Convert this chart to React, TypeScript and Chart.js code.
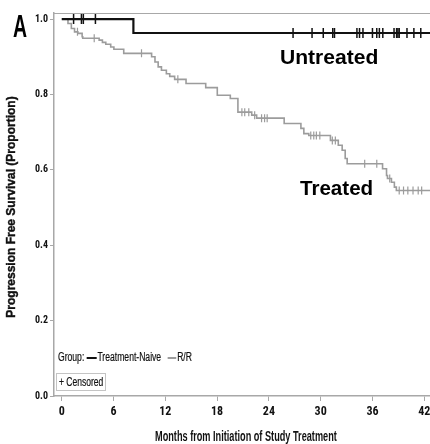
import React, { useEffect, useLayoutEffect, useRef, useState } from "react";
import { Chart, registerables } from "chart.js";
Chart.register(...registerables);

const xTicks = [0, 6, 12, 18, 24, 30, 36, 42];
const yTicks = [0, 0.2, 0.4, 0.6, 0.8, 1.0];

const untreatedTimes = [0, 8.3, 44];
const untreatedSurv = [1.0, 0.963, 0.963];
const untreatedCensored = [1.37, 2.28, 2.5, 3.9, 26.8, 29.0, 30.3, 31.4, 31.6, 34.2, 34.5, 34.9, 36.0, 36.5, 36.8, 37.2, 38.5, 38.8, 38.95, 39.1, 40.0, 40.8, 41.6];

const treatedTimes = [0, 0.72, 1.11, 1.48, 1.86, 2.36, 2.43, 4.33, 4.71, 5.1, 5.67, 6.04, 7.18, 10.41, 10.8, 11.17, 11.55, 12.12, 12.51, 13.08, 14.4, 16.68, 18.02, 19.53, 20.41, 22.01, 22.58, 25.77, 27.71, 28.05, 28.62, 31.13, 32.04, 32.49, 32.84, 33.07, 37.17, 37.63, 37.74, 38.2, 38.54, 38.77, 44];
const treatedSurv = [1.0, 0.988, 0.975, 0.966, 0.962, 0.953, 0.949, 0.944, 0.938, 0.933, 0.926, 0.92, 0.909, 0.9, 0.886, 0.873, 0.864, 0.855, 0.848, 0.84, 0.829, 0.818, 0.798, 0.789, 0.753, 0.745, 0.737, 0.723, 0.71, 0.696, 0.691, 0.678, 0.665, 0.652, 0.63, 0.616, 0.603, 0.585, 0.577, 0.567, 0.554, 0.545, 0.545];
const treatedCensored = [1.82, 3.76, 9.24, 13.45, 20.87, 21.2, 21.67, 22.35, 23.15, 23.5, 23.8, 28.85, 29.2, 29.5, 29.9, 31.35, 31.7, 35.1, 36.5, 38.0, 39.1, 39.6, 40.1, 40.7, 41.3, 41.7];

const survAt = (times: number[], surv: number[], t: number) => {
  let v = surv[0];
  for (let i = 0; i < times.length; i++) if (times[i] <= t) v = surv[i];
  return v;
};

const BLACK = "#111111";
const GRAY = "#9c9c9c";
const AXIS = "#a8a8a8";
const NARROW = "'Roboto Condensed', 'DejaVu Sans Condensed', 'Liberation Sans', sans-serif";
const SANS = "'Liberation Sans', Arial, sans-serif";

function FitText({ width, style, children }: { width: number; style?: React.CSSProperties; children: React.ReactNode }) {
  const ref = useRef<HTMLSpanElement>(null);
  const [s, setS] = useState(1);
  useLayoutEffect(() => {
    if (ref.current) setS(width / ref.current.offsetWidth);
  }, [width]);
  return (
    <span
      ref={ref}
      style={{ display: "inline-block", whiteSpace: "nowrap", transform: `scaleX(${s})`, transformOrigin: "left top", ...style }}
    >
      {children}
    </span>
  );
}

const topBorder = {
  id: "topBorder",
  afterDraw(chart: any) {
    const { ctx, chartArea } = chart;
    ctx.save();
    ctx.strokeStyle = AXIS;
    ctx.lineWidth = 1;
    ctx.beginPath();
    ctx.moveTo(chartArea.left, chartArea.top + 0.5);
    ctx.lineTo(chartArea.right, chartArea.top + 0.5);
    ctx.stroke();
    ctx.restore();
  },
};

export default function App() {
  const canvasRef = useRef<HTMLCanvasElement>(null);
  useEffect(() => {
    const ctx = canvasRef.current!;
    const chart = new Chart(ctx, {
      type: "line",
      data: {
        datasets: [
          {
            label: "Untreated censored",
            data: untreatedCensored.map((t) => ({ x: t, y: survAt(untreatedTimes, untreatedSurv, t) })),
            showLine: false,
            pointStyle: "line",
            rotation: 90,
            pointRadius: 5,
            pointBorderWidth: 1.5,
            borderColor: BLACK,
            backgroundColor: BLACK,
          },
          {
            label: "Treatment-Naive",
            data: untreatedTimes.map((t, i) => ({ x: t, y: untreatedSurv[i] })),
            stepped: "before",
            borderColor: BLACK,
            borderWidth: 2.2,
            pointRadius: 0,
          },
          {
            label: "R/R censored",
            data: treatedCensored.map((t) => ({ x: t, y: survAt(treatedTimes, treatedSurv, t) })),
            showLine: false,
            pointStyle: "line",
            rotation: 90,
            pointRadius: 4,
            pointBorderWidth: 1.2,
            borderColor: GRAY,
            backgroundColor: GRAY,
          },
          {
            label: "R/R",
            data: treatedTimes.map((t, i) => ({ x: t, y: treatedSurv[i] })),
            stepped: "before",
            borderColor: GRAY,
            borderWidth: 1.6,
            pointRadius: 0,
          },
        ],
      },
      options: {
        animation: false,
        responsive: false,
        devicePixelRatio: 1,
        layout: { padding: { top: 13, left: 0, right: 0, bottom: 0 } },
        plugins: { legend: { display: false }, tooltip: { enabled: false } },
        scales: {
          x: {
            type: "linear",
            min: -0.9,
            max: 44,
            afterBuildTicks: (s: any) => {
              s.ticks = xTicks.map((v) => ({ value: v }));
            },
            afterFit: (s: any) => {
              s.height = 48;
            },
            grid: { drawOnChartArea: false, drawTicks: true, tickLength: 5, color: AXIS },
            border: { display: true, color: AXIS, width: 1.5 },
            ticks: {
              color: "#111",
              padding: 4,
              font: { family: NARROW, size: 12, weight: "bold" },
              callback: (v: any) => String(v),
            },
          },
          y: {
            type: "linear",
            min: 0,
            max: 1.016,
            afterBuildTicks: (s: any) => {
              s.ticks = yTicks.map((v) => ({ value: v }));
            },
            afterFit: (s: any) => {
              s.width = 54;
            },
            grid: { drawOnChartArea: false, drawTicks: true, tickLength: 4, color: AXIS },
            border: { display: true, color: AXIS, width: 1.5 },
            ticks: {
              color: "#111",
              padding: 2,
              font: { family: NARROW, size: 10, weight: "bold" },
              callback: (v: any) => Number(v).toFixed(1),
            },
          },
        },
      },
      plugins: [topBorder],
    });
    return () => chart.destroy();
  }, []);

  const abs = (l: number, t: number): React.CSSProperties => ({ position: "absolute", left: l, top: t });

  return (
    <div style={{ position: "absolute", left: 0, top: 0, width: 430, height: 444, overflow: "hidden", background: "#fff" }}>
      <canvas ref={canvasRef} width={448} height={444} style={{ position: "absolute", left: 0, top: 0, width: 448, height: 444 }} />
      <div style={{ ...abs(13, 10), fontFamily: SANS, fontWeight: "bold", fontSize: 32, lineHeight: "32px", color: "#000" }}>
        <FitText width={14}>A</FitText>
      </div>
      <div
        style={{
          position: "absolute",
          left: 11,
          top: 207,
          transform: "translate(-50%, -50%) rotate(-90deg)",
          fontFamily: SANS,
          fontWeight: "bold",
          fontSize: 12,
          lineHeight: "12px",
          whiteSpace: "nowrap",
          color: "#111",
          WebkitTextStroke: "0.4px #111",
        }}
      >
        Progression Free Survival (Proportion)
      </div>
      <div style={{ ...abs(155, 429), fontFamily: SANS, fontWeight: "bold", fontSize: 14, lineHeight: "14px", color: "#111" }}>
        <FitText width={182}>Months from Initiation of Study Treatment</FitText>
      </div>
      <div style={{ ...abs(280, 47), fontFamily: SANS, fontWeight: "bold", fontSize: 20, lineHeight: "20px", color: "#000" }}>
        <FitText width={98}>Untreated</FitText>
      </div>
      <div style={{ ...abs(300, 178), fontFamily: SANS, fontWeight: "bold", fontSize: 20, lineHeight: "20px", color: "#000" }}>
        <FitText width={73}>Treated</FitText>
      </div>
      <div style={{ ...abs(58, 351), fontFamily: SANS, fontSize: 12, lineHeight: "12px", color: "#111", WebkitTextStroke: "0.2px #111" }}>
        <FitText width={134}>
          <span>Group: </span>
          <span style={{ display: "inline-block", width: 14, height: 2, background: BLACK, verticalAlign: "middle", marginRight: 1 }} />
          <span>Treatment-Naive </span>
          <span style={{ display: "inline-block", width: 12, height: 2, background: GRAY, verticalAlign: "middle", marginLeft: 6, marginRight: 1 }} />
          <span>R/R</span>
        </FitText>
      </div>
      <div
        style={{
          ...abs(56, 373),
          width: 50,
          height: 18,
          boxSizing: "border-box",
          border: "1px solid #c4c4c4",
        }}
      />
      <div style={{ ...abs(59, 376), fontFamily: SANS, fontSize: 12, lineHeight: "12px", color: "#111", WebkitTextStroke: "0.2px #111" }}>
        <FitText width={44}>+ Censored</FitText>
      </div>
    </div>
  );
}
